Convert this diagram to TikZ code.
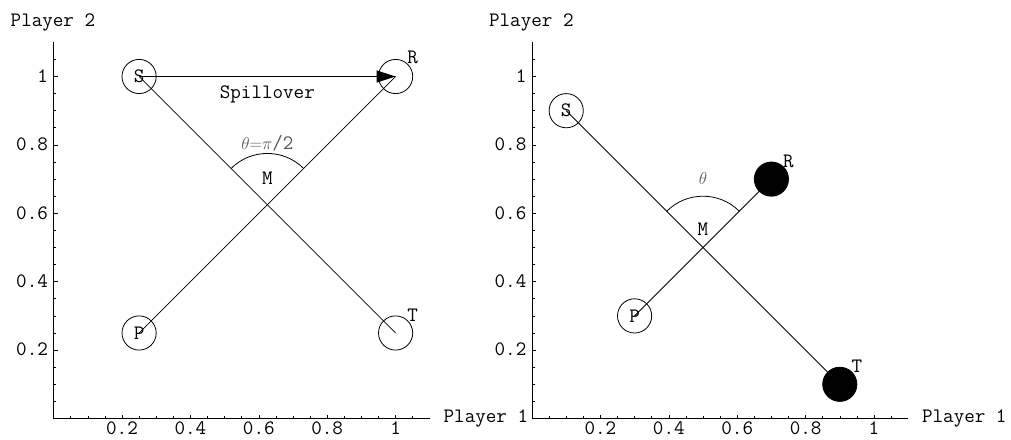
\documentclass[tikz,border=0pt]{standalone}
\usepackage{fontspec}
\usetikzlibrary{arrows.meta}
\tikzset{
  txt/.style={font=\ttfamily\fontsize{20.5}{22}\selectfont, inner sep=0pt},
  ptopen/.style={circle, draw, line width=0.8pt, minimum size=34.2pt, inner sep=0pt, txt},
  ptfull/.style={ptopen, fill=black},
  ln/.style={line width=0.8pt},
  arr/.style={line width=1pt, -{Triangle[length=19pt,width=12pt]}},
  ax/.style={line width=0.8pt},
  tck/.style={line width=0.6pt},
  thlab/.style={txt, text=black!65},
  plotaxes/.pic={
    \draw[ax] (0,0) -- (1.1,0);
    \draw[ax] (0,0) -- (0,1.1);
    \foreach \t in {0.05,0.1,...,1.06} {
      \draw[tck] (\t,0) -- ++(0pt,2.5pt);
      \draw[tck] (0,\t) -- ++(2.5pt,0pt);
    }
    \foreach \t/\l [count=\k] in {0.2/0.2,0.4/0.4,0.6/0.6,0.8/0.8,1/1} {
      \draw[tck] (\t,0) -- ++(0pt,4pt);
      \draw[tck] (0,\t) -- ++(4pt,0pt);
      \node[txt, anchor=base] (-x\k) at ([yshift=-15.5pt]\t,0) {\l};
      \node[txt, anchor=base east] (-y\k) at ([xshift=-5.5pt,yshift=-5.8pt]0,\t) {\l};
    }
    \node[txt, anchor=base west] (-p1) at ([yshift=-3.5pt]1.14,0) {Player 1};
    \node[txt, anchor=base west] (-p2) at (-0.126,1.1456) {Player 2};
  }
}
\newcommand{\thsize}{\fontsize{16}{18}\selectfont}
\begin{document}
\begin{tikzpicture}[x=1pt,y=1pt]
\fill[white] (0,0) rectangle (1011,439);
\useasboundingbox (0,0) rectangle (1011,439);

% ---------- left plot ----------
\begin{scope}[shift={(53.6pt,20.5pt)}, x=342pt, y=342pt]
  \pic (L) {plotaxes};
  \coordinate (lM) at (0.625,0.625);
  \node[ptopen] (lS) at (0.25,1) {S};
  \node[ptopen] (lR) at (1,1) {};
  \node[ptopen] (lP) at (0.25,0.25) {P};
  \node[ptopen] (lT) at (1,0.25) {};
  \node[txt, anchor=base] (lRl) at (1.05,1.037) {R};
  \node[txt, anchor=base] (lTl) at (1.05,0.283) {T};
  \draw[ln] (lS.center) -- (lT.center);
  \draw[ln] (lP.center) -- (lR.center);
  \draw[arr] (lS.center) -- (lR.center);
  \draw[ln] ([shift={(45:51.3pt)}]lM) arc[start angle=45, end angle=135, radius=51.3pt];
  \node[txt, anchor=base] (lMl) at (0.625,0.685) {M};
  \node[thlab, anchor=base] (lth) at (0.625,0.788) {{\thsize$\theta{=}\pi$}/2};
  \node[txt, anchor=base] (lsp) at (0.625,0.936) {Spillover};
\end{scope}

% ---------- right plot ----------
\begin{scope}[shift={(532pt,20.5pt)}, x=342pt, y=342pt]
  \pic (Rt) {plotaxes};
  \coordinate (rM) at (0.5,0.5);
  \node[ptopen] (rS) at (0.1,0.9) {S};
  \node[ptopen] (rP) at (0.3,0.3) {P};
  \node[ptfull] (rR) at (0.7,0.7) {};
  \node[ptfull] (rT) at (0.9,0.1) {};
  \node[txt, anchor=base] (rRl) at (0.75,0.733) {R};
  \node[txt, anchor=base] (rTl) at (0.95,0.134) {T};
  \draw[ln] (rS.center) -- (rT.center);
  \draw[ln] (rP.center) -- (rR.center);
  \draw[ln] ([shift={(45:51.3pt)}]rM) arc[start angle=45, end angle=135, radius=51.3pt];
  \node[txt, anchor=base] (rMl) at (0.5,0.536) {M};
  \node[thlab, anchor=base] (rth) at (0.5,0.685) {\thsize$\theta$};
\end{scope}
\end{tikzpicture}
\end{document}
